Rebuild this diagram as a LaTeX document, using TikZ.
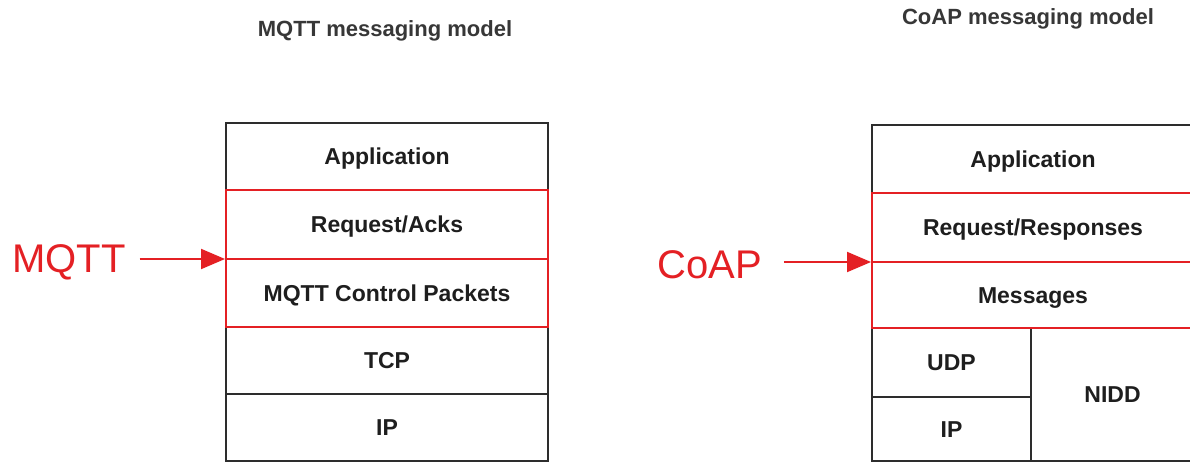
\documentclass[tikz,border=0pt]{standalone}
\usepackage{fontspec}
\setmainfont{Liberation Sans}
\usetikzlibrary{arrows.meta}
\definecolor{lyrred}{RGB}{228,32,36}
\definecolor{lyrline}{RGB}{45,45,45}
\definecolor{lyrtext}{RGB}{30,30,30}
\definecolor{titlegray}{RGB}{55,55,55}

\begin{document}
\begin{tikzpicture}[x=1pt,y=-1pt,
  cell/.style={draw=lyrline, line width=2.4pt, inner sep=0pt, outer sep=0pt,
    font=\fontsize{23}{26}\selectfont\bfseries, text=lyrtext,
    text height=16.5pt, text depth=0pt},
  redcell/.style={cell, draw=lyrred},
  title/.style={font=\fontsize{22}{26}\selectfont\bfseries, text=titlegray,
    inner sep=0pt, anchor=base},
  proto/.style={font=\fontsize{40}{44}\selectfont, text=lyrred, inner sep=0pt,
    text height=28.6pt, text depth=0pt, anchor=west},
  pointer/.style={draw=lyrred, line width=2pt,
    -{Triangle[length=24pt,width=20pt]}}
]
\useasboundingbox (0,0) rectangle (1190,463);
\fill[white] (0,0) rectangle (1190,463);
\clip (0,0) rectangle (1190,463);

% titles
\node[title] (mtitle) at (385,36) {MQTT messaging model};
\node[title] (ctitle) at (1028,24.5) {CoAP messaging model};

% MQTT stack
\node[cell, minimum width=322pt, minimum height=67pt] (mapp) at (387,156.5) {Application};
\node[cell, minimum width=322pt, minimum height=67pt] (mtcp) at (387,360.5) {TCP};
\node[cell, minimum width=322pt, minimum height=67pt] (mip)  at (387,427.5) {IP};
\node[redcell, minimum width=322pt, minimum height=69pt] (mreq) at (387,224.5) {Request/Acks};
\node[redcell, minimum width=322pt, minimum height=68pt] (mctl) at (387,293) {MQTT Control Packets};

% CoAP stack
\node[cell, minimum width=322pt, minimum height=68pt] (capp) at (1033,159) {Application};
\node[cell, minimum width=159pt, minimum height=69pt] (cudp) at (951.5,362.5) {UDP};
\node[cell, minimum width=159pt, minimum height=64pt] (cip)  at (951.5,429) {IP};
\node[cell, minimum width=163pt, minimum height=133pt] (cnidd) at (1112.5,394.5) {NIDD};
\node[redcell, minimum width=322pt, minimum height=69pt] (creq) at (1033,227.5) {Request/Responses};
\node[redcell, minimum width=322pt, minimum height=66pt] (cmsg) at (1033,295) {Messages};

% protocol labels and pointers
\node[proto] (mlbl) at (12,258) {MQTT};
\node[proto] (clbl) at (657,264) {CoAP};
\coordinate (mtip) at (mreq.south west);
\coordinate (ctip) at (creq.south west);
\draw[pointer, shorten <=14pt, shorten >=1pt] (mlbl.east |- mtip) -- (mtip);
\draw[pointer, shorten <=22pt, shorten >=1pt] (clbl.east |- ctip) -- (ctip);
\end{tikzpicture}
\end{document}
